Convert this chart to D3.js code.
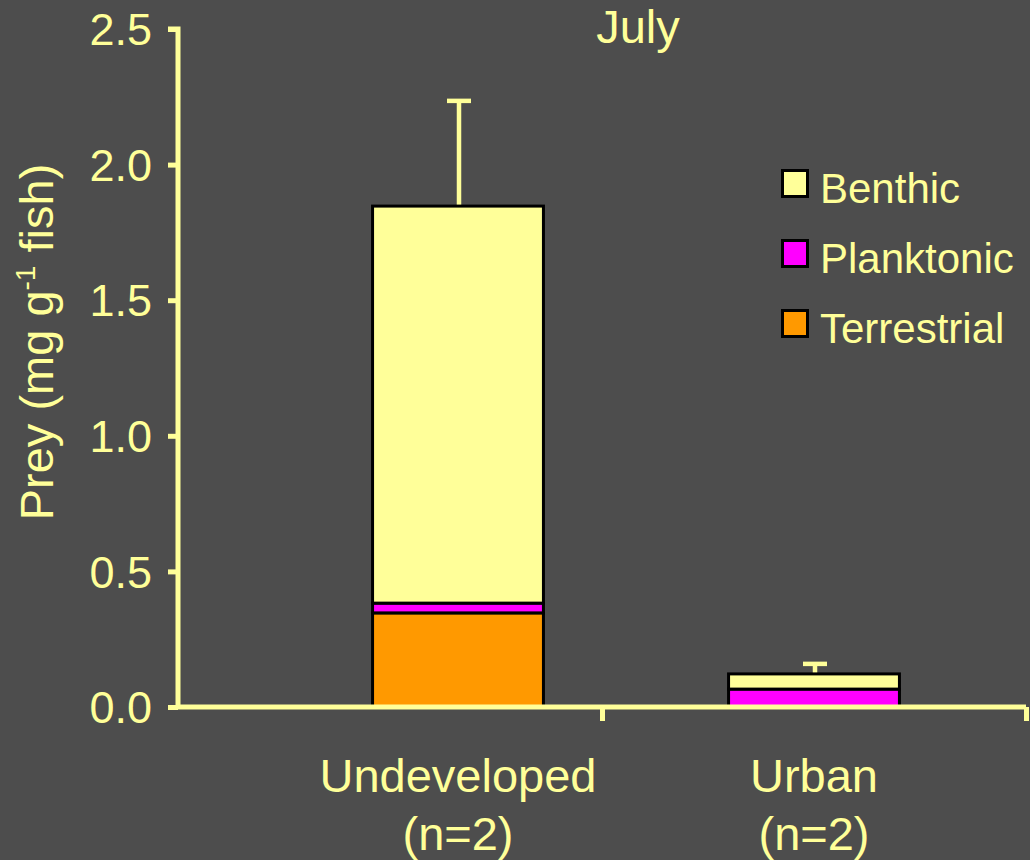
<!DOCTYPE html>
<meta charset="utf-8">
<head>
  <title>July prey</title>
</head>
<style>
body { margin: 0; background: #4d4d4d; }
svg text { font-family: "Liberation Sans", Arial, sans-serif; fill: #ffff99; }
</style>
<body>
  <div id="content"></div>
  <script src="https://cdnjs.cloudflare.com/ajax/libs/d3/7.8.5/d3.min.js"></script>
  <script>

// data
var sites = ['Undeveloped', 'Urban'];
var siteN = ['(n=2)', '(n=2)'];
var preyTypes = ['Terrestrial', 'Planktonic', 'Benthic'];
var terrestrial = [0.347, 0.0];
var planktonic = [0.036, 0.066];
var benthic = [1.464, 0.056];
var errorTop = [2.235, 0.159];
var yTicks = [0, 0.5, 1.0, 1.5, 2.0, 2.5];
var legendOrder = ['Benthic', 'Planktonic', 'Terrestrial'];

var colors = {Benthic: '#ffff99', Planktonic: '#ff00ff', Terrestrial: '#ff9900'};
var ink = '#ffff99';

var width = 1030, height = 860;
var svg = d3.select('#content').append('svg')
  .attr('width', width)
  .attr('height', height);

svg.append('rect').attr('width', width).attr('height', height).attr('fill', '#4d4d4d');

var y = d3.scaleLinear().domain([0, 2.5]).range([707, 29]);
var x = d3.scaleBand().domain(sites).range([280, 992])
  .paddingInner(0.52).paddingOuter(0.26);
var xFrame = d3.scaleLinear().domain([0, 2]).range([178, 1026]);

// stack the prey categories
var rows = sites.map(function(s, i) {
  return {site: s, Terrestrial: terrestrial[i], Planktonic: planktonic[i], Benthic: benthic[i], err: errorTop[i]};
});
var stack = d3.stack().keys(preyTypes)(rows);

// error bars (drawn first, the bar outline covers the stem foot)
svg.append('g').selectAll('g')
  .data(rows)
  .join('g')
  .each(function(d) {
    var g = d3.select(this);
    var cx = x(d.site) + x.bandwidth() / 2 + 1;
    var top = d.Terrestrial + d.Planktonic + d.Benthic;
    g.append('line')
      .attr('x1', cx).attr('x2', cx)
      .attr('y1', y(top)).attr('y2', y(d.err))
      .attr('stroke', ink).attr('stroke-width', 4.5);
    g.append('line')
      .attr('x1', cx - 12).attr('x2', cx + 12)
      .attr('y1', y(d.err)).attr('y2', y(d.err))
      .attr('stroke', ink).attr('stroke-width', 4.5);
  });

svg.append('g').selectAll('g')
  .data(stack)
  .join('g')
  .attr('fill', function(d) { return colors[d.key]; })
  .selectAll('rect')
  .data(function(d) { return d.filter(function(p) { return p[1] - p[0] > 0; }); })
  .join('rect')
  .attr('x', function(d) { return x(d.data.site); })
  .attr('width', x.bandwidth())
  .attr('y', function(d) { return y(d[1]); })
  .attr('height', function(d) { return y(d[0]) - y(d[1]); })
  .attr('stroke', '#000')
  .attr('stroke-width', 3);

// y axis
var yAxis = svg.append('g')
  .attr('transform', 'translate(178,0)')
  .call(d3.axisLeft(y).tickValues(yTicks).tickFormat(d3.format('.1f')).tickSize(10).tickPadding(16));
yAxis.select('.domain').attr('stroke', ink).attr('stroke-width', 5).attr('d', 'M-10,' + y(2.5) + 'H0V' + y(0));
yAxis.selectAll('.tick line').attr('stroke', ink).attr('stroke-width', 5);
yAxis.selectAll('.tick text').attr('font-size', 45).attr('dy', '0.35em').style('fill', ink)
  .attr('font-family', '"Liberation Sans", Arial, sans-serif');

// x axis frame
var xAxis = svg.append('g')
  .attr('transform', 'translate(0,' + y(0) + ')')
  .call(d3.axisBottom(xFrame).tickValues([1, 2]).tickSize(14).tickFormat(''));
xAxis.select('.domain').attr('stroke', ink).attr('stroke-width', 5).attr('d', 'M176,0H' + xFrame(2));
xAxis.selectAll('.tick line').attr('stroke', ink).attr('stroke-width', 5);

// category labels
var labels = svg.append('g').selectAll('text')
  .data(sites)
  .join('text')
  .attr('text-anchor', 'middle')
  .attr('font-size', 47)
  .attr('x', function(d) { return x(d) + x.bandwidth() / 2; });
labels.append('tspan').attr('y', 792).text(function(d) { return d; });
labels.append('tspan')
  .attr('x', function(d) { return x(d) + x.bandwidth() / 2; })
  .attr('y', 850)
  .text(function(d, i) { return siteN[i]; });

// title
svg.append('text')
  .attr('x', 638).attr('y', 43)
  .attr('text-anchor', 'middle')
  .attr('font-size', 47)
  .text('July');

// y label
var yl = svg.append('text')
  .attr('transform', 'translate(53,342) rotate(-90)')
  .attr('text-anchor', 'middle')
  .attr('font-size', 47);
yl.append('tspan').text('Prey (mg g');
yl.append('tspan').attr('font-size', 28).attr('dy', -18).text('-1');
yl.append('tspan').attr('dy', 18).text(' fish)');

// legend
var legend = svg.append('g').selectAll('g')
  .data(legendOrder)
  .join('g')
  .attr('transform', function(d, i) { return 'translate(782.5,' + (170.5 + i * 70) + ')'; });
legend.append('rect')
  .attr('width', 25).attr('height', 26)
  .attr('fill', function(d) { return colors[d]; })
  .attr('stroke', '#000').attr('stroke-width', 3);
legend.append('text')
  .attr('x', 37.5).attr('y', 32.5)
  .attr('font-size', 42)
  .text(function(d) { return d; });

</script>
</body>
</html>
